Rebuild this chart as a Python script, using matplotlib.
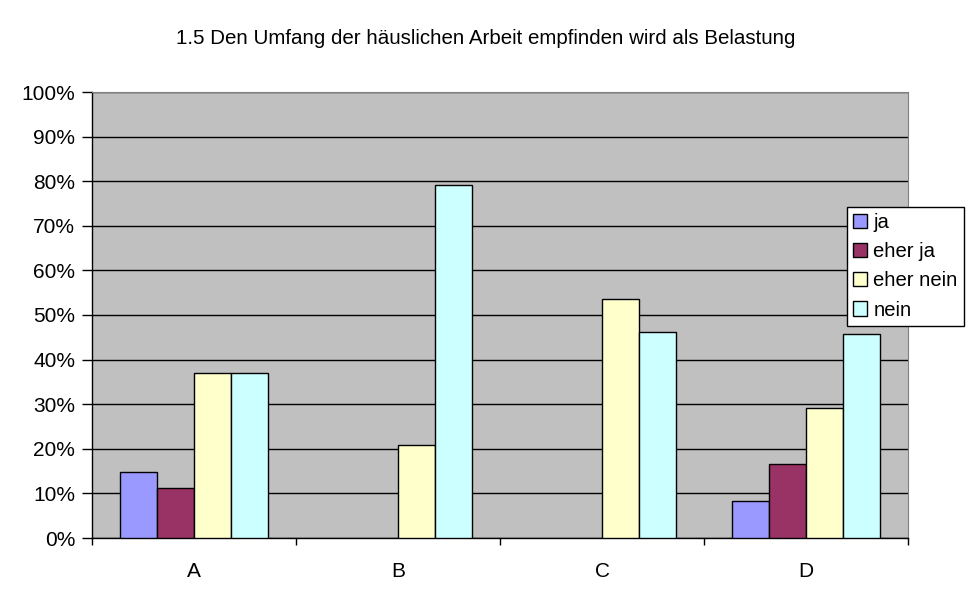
import matplotlib.pyplot as plt
import numpy as np
from matplotlib.ticker import PercentFormatter

plt.rcParams['font.family'] = ['Liberation Sans', 'DejaVu Sans']

# data (percent)
categories = ['A', 'B', 'C', 'D']
series_names = ['ja', 'eher ja', 'eher nein', 'nein']
ja = [14.8, 0, 0, 8.2]
eher_ja = [11.1, 0, 0, 16.6]
eher_nein = [37.0, 20.8, 53.5, 29.1]
nein = [37.0, 79.1, 46.3, 45.7]
colors = ['#9999FF', '#993366', '#FFFFCC', '#CCFFFF']

fig = plt.figure(figsize=(9.72, 6.04), dpi=100)
ax = fig.add_axes([92 / 972, 1 - 538 / 604, 816 / 972, 446 / 604])
ax.set_facecolor('#C0C0C0')

x = np.arange(len(categories))
w = 1 / 5.5
values = [ja, eher_ja, eher_nein, nein]
for i, (vals, name, c) in enumerate(zip(values, series_names, colors)):
    # empty bars get no outline, like in the original
    lw = [1 if v > 0 else 0 for v in vals]
    ax.bar(x + (i - 1.5) * w, vals, width=w, color=c, edgecolor='black',
           linewidth=lw, label=name, zorder=3)

ax.set_xlim(-0.5, len(categories) - 0.5)
ax.set_ylim(0, 100)
ax.set_yticks(np.arange(0, 101, 10))
ax.yaxis.set_major_formatter(PercentFormatter(decimals=0))
ax.grid(axis='y', color='black', linewidth=1, zorder=1)

# category labels in the middle, tick marks on the boundaries
ax.set_xticks(np.arange(-0.5, len(categories), 1))
ax.set_xticklabels([])
ax.set_xticks(x, minor=True)
ax.set_xticklabels(categories, minor=True)
ax.tick_params(axis='x', which='minor', length=0, labelsize=15, pad=17)
ax.tick_params(axis='x', which='major', length=5, width=1, direction='out')
ax.tick_params(axis='y', labelsize=15, length=7, width=1, direction='out', pad=5)

ax.spines['top'].set_color('#808080')
ax.spines['right'].set_color('#808080')
ax.spines['left'].set_linewidth(1)
ax.spines['bottom'].set_linewidth(1)

fig.suptitle('1.5 Den Umfang der häuslichen Arbeit empfinden wird als Belastung',
             x=486 / 972, y=1 - 38 / 604, va='center', fontsize=14.8)

leg = ax.legend(loc='upper left', bbox_to_anchor=(847 / 972, 1 - 207 / 604),
                bbox_transform=fig.transFigure, fontsize=14.6, frameon=True,
                fancybox=False, edgecolor='black', framealpha=1,
                handlelength=0.7, handleheight=0.7, handletextpad=0.3,
                labelspacing=0.5, borderpad=0.3, borderaxespad=0)
leg.get_frame().set_linewidth(1)

fig.savefig('out.png', dpi=100)
